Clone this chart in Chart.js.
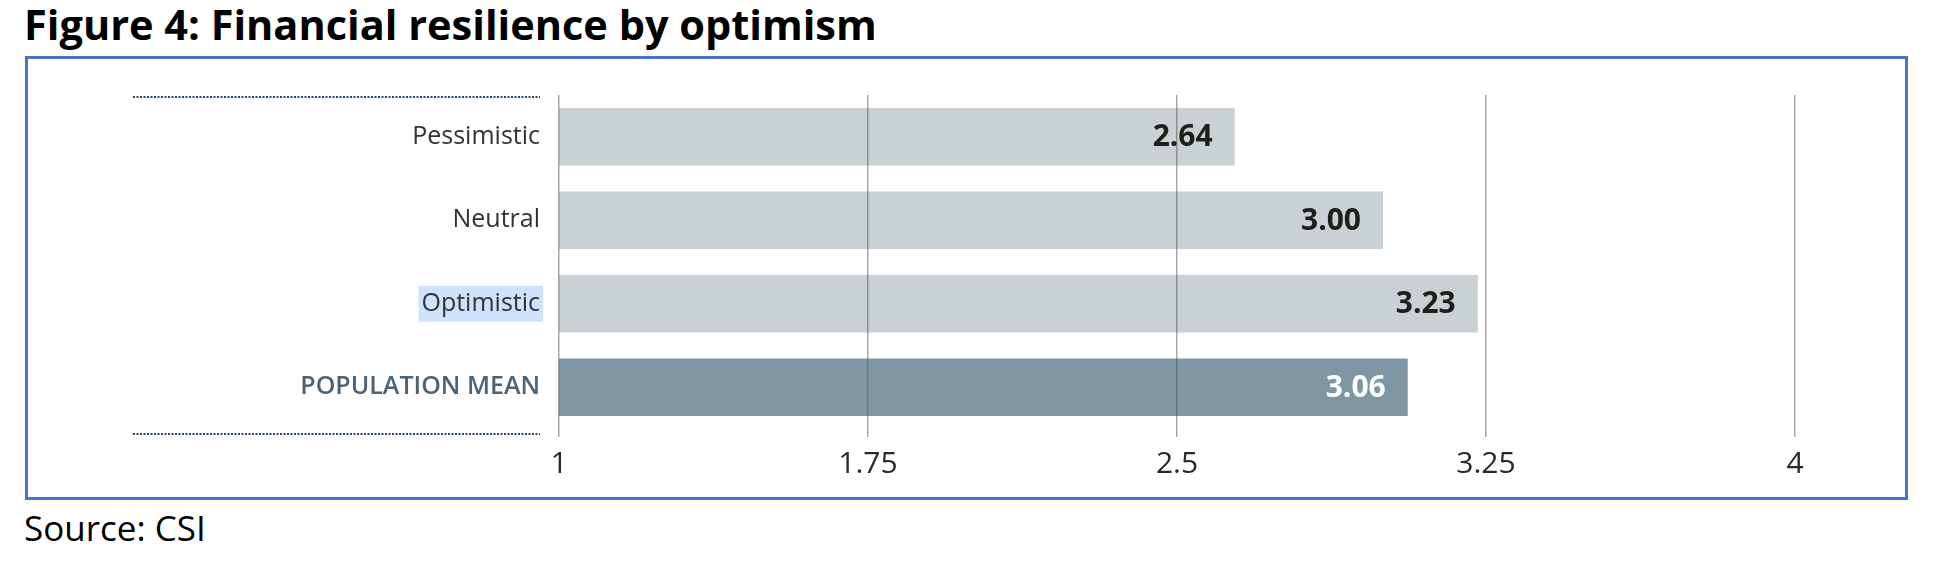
<!DOCTYPE html>
<html>
<head>
<meta charset="utf-8">
<script src="https://cdn.jsdelivr.net/npm/chart.js@4.4.0/dist/chart.umd.min.js"></script>
<style>
  body { margin:0; background:#fff; width:1937px; height:561px; overflow:hidden; position:relative; }
  #title { position:absolute; left:24px; top:-4px; font-family:"Open Sans", sans-serif; font-weight:700; font-size:41.5px; color:#000; white-space:nowrap; }
  #frame { position:absolute; left:25px; top:56px; width:1877px; height:438px; border:3px solid #4a74c4; }
  #source { position:absolute; left:24px; top:504px; font-family:"Open Sans", sans-serif; font-size:35px; color:#000; white-space:nowrap; }
  #myChart { position:absolute; left:0; top:0; }
</style>
</head>
<body>
<div id="title">Figure 4: Financial resilience by optimism</div>
<div id="frame"></div>
<div id="source">Source: CSI</div>
<canvas id="myChart" width="1937" height="561"></canvas>
<script>
const categories = ['Pessimistic', 'Neutral', 'Optimistic', 'POPULATION MEAN'];
const scores = [2.64, 3.00, 3.23, 3.06];
const tickValues = [1, 1.75, 2.5, 3.25, 4];

const barColors = ['#c9d1d4', '#c9d1d4', '#c9d1d4', '#7f97a5'];
const valueColors = ['#1f1f1a', '#1f1f1a', '#1f1f1a', '#ffffff'];

// highlight behind "Optimistic" + dotted rules at left
const decor = {
  id: 'decor',
  beforeDraw(chart) {
    const c = chart.ctx;
    const y = chart.scales.y;
    const yy = y.getPixelForTick(2);
    c.save();
    c.font = '25px "Open Sans"';
    const w = c.measureText(categories[2]).width;
    c.fillStyle = '#cfe2fb';
    c.fillRect(541 - w - 4, yy - 18, w + 6, 36);
    c.strokeStyle = '#2a4866';
    c.lineWidth = 2;
    c.setLineDash([2, 1.5]);
    [97, 434].forEach(function(ly) {
      c.beginPath();
      c.moveTo(133, ly);
      c.lineTo(540, ly);
      c.stroke();
    });
    c.restore();
  },
  afterDraw(chart) {
    const c = chart.ctx;
    const bars = chart.getDatasetMeta(0).data;
    c.save();
    c.font = 'bold 30px "Open Sans"';
    c.textAlign = 'right';
    c.textBaseline = 'middle';
    bars.forEach(function(b, i) {
      c.fillStyle = valueColors[i];
      c.fillText(scores[i].toFixed(2), b.x - 22, b.y + 1);
    });
    c.restore();
  }
};

const myChart = new Chart(document.getElementById('myChart').getContext('2d'), {
  type: 'bar',
  data: {
    labels: categories,
    datasets: [{
      data: scores,
      backgroundColor: barColors,
      barPercentage: 0.69,
      categoryPercentage: 1
    }]
  },
  options: {
    indexAxis: 'y',
    responsive: false,
    animation: false,
    devicePixelRatio: 1,
    layout: { padding: { left: 0, right: 142, top: 95, bottom: 0 } },
    scales: {
      x: {
        min: 1,
        max: 4,
        afterBuildTicks: function(axis) {
          axis.ticks = tickValues.map(function(v) { return { value: v }; });
        },
        afterFit: function(s) { s.height = 561 - 429; },
        grid: { color: 'rgba(80,80,80,0.5)', lineWidth: 1.5, z: 1, tickLength: 8 },
        border: { display: false },
        ticks: {
          color: '#2a2a2a',
          font: { family: 'Open Sans', size: 30 },
          padding: 9,
          callback: function(v) { return String(v); }
        }
      },
      y: {
        afterFit: function(s) { s.width = 559; },
        grid: { display: false, drawTicks: false },
        border: { display: false },
        ticks: {
          padding: 19,
          color: function(ctx) { return ctx.index === 3 ? '#4b6374' : '#333333'; },
          font: function(ctx) {
            return ctx.index === 3
              ? { family: 'Open Sans', size: 25, weight: '600' }
              : { family: 'Open Sans', size: 25 };
          }
        }
      }
    },
    plugins: {
      legend: { display: false },
      tooltip: { enabled: false }
    }
  },
  plugins: [decor]
});
</script>
</body>
</html>
